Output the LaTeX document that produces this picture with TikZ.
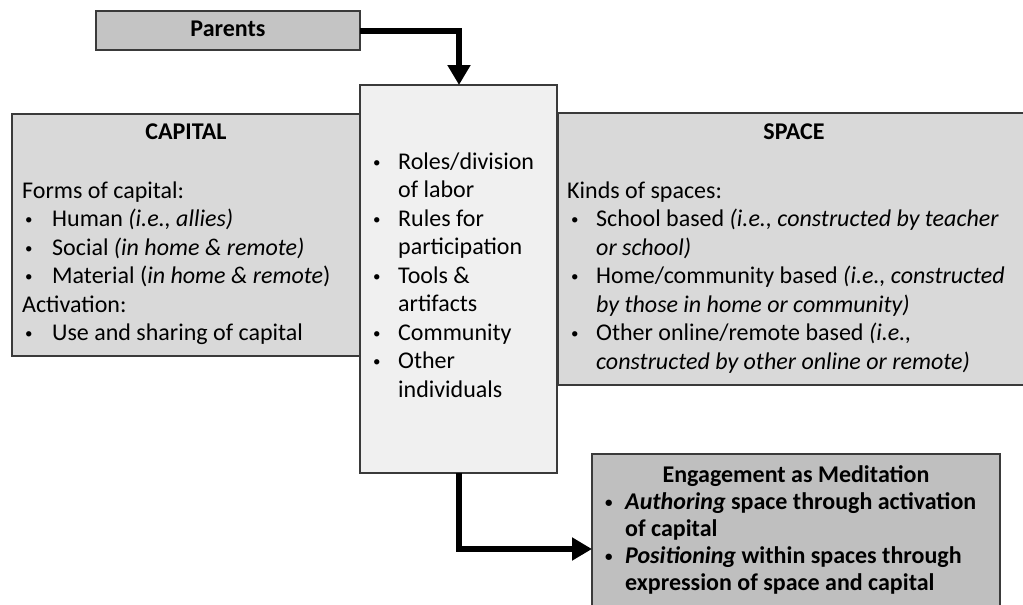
\documentclass[tikz,border=0pt]{standalone}
\usepackage{fontspec}
\setmainfont{Carlito}
\usetikzlibrary{arrows.meta}
\newcommand\fsz{\fontsize{24}{28}\selectfont}
\newcommand\bl[1]{\makebox[#1][l]{\raisebox{2pt}{\fontsize{15}{15}\selectfont •}}}
\definecolor{edgec}{HTML}{3A3A3A}
\definecolor{parentfill}{HTML}{C4C4C4}
\definecolor{midfill}{HTML}{D9D9D9}
\definecolor{lightfill}{HTML}{F0F0F0}
\definecolor{engfill}{HTML}{BFBFBF}
\begin{document}
\begin{tikzpicture}[x=1pt,y=-1pt,
  box/.style={draw=edgec, line width=1.5pt, anchor=north west, inner sep=0pt, outer sep=0pt},
  txt/.style={anchor=base west, inner sep=0pt, font=\fsz},
  ttl/.style={anchor=base, inner sep=0pt, font=\fsz\bfseries},
  btxt/.style={anchor=base west, inner sep=0pt, font=\fsz\bfseries},
  conn/.style={line width=6pt, -{Triangle[width=22pt,length=20pt]}}]
\useasboundingbox (0,0) rectangle (1023,605);
\clip (0,0) rectangle (1023,605);
% boxes
\node[box, fill=parentfill, minimum width=264pt, minimum height=39pt] (parents) at (96,11) {};
\node[font=\fsz\bfseries, inner sep=0pt] (ptxt) at (228,29) {Parents};
\node[box, fill=midfill, minimum width=348pt, minimum height=242pt] (capital) at (12,114) {};
\node[box, fill=midfill, minimum width=472pt, minimum height=272pt] (space) at (558,113) {};
\node[box, fill=lightfill, minimum width=197pt, minimum height=388pt] (center) at (360,85) {};
\node[box, fill=engfill, minimum width=408pt, minimum height=170pt] (engage) at (592,454) {};
% connectors
\draw[conn] (parents.east) -| ([xshift=0.5pt]center.north);
\draw[conn] ([xshift=0.5pt]center.south) |- ([yshift=-10pt]engage.west);
% CAPITAL text
\node[ttl] (capt) at (186,139) {CAPITAL};
\node[txt] (c1) at (22,198) {Forms of capital:};
\node[txt] (c2) at (25,226.5) {\bl{27pt}Human \textit{(i.e., allies)}};
\node[txt] (c3) at (25,255) {\bl{27pt}Social \textit{(in home \& remote)}};
\node[txt] (c4) at (25,283.5) {\bl{27pt}Material (\textit{in home \& remote})};
\node[txt] (c5) at (22,312) {Activation:};
\node[txt] (c6) at (25,340.5) {\bl{27pt}Use and sharing of capital};
% center text
\node[txt] (m1) at (373,169) {\bl{25pt}Roles/division};
\node[txt] (m2) at (398,197.5) {of labor};
\node[txt] (m3) at (373,226) {\bl{25pt}Rules for};
\node[txt] (m4) at (398,254.5) {participation};
\node[txt] (m5) at (373,283) {\bl{25pt}Tools \&};
\node[txt] (m6) at (398,311.5) {artifacts};
\node[txt] (m7) at (373,340) {\bl{25pt}Community};
\node[txt] (m8) at (373,368.5) {\bl{25pt}Other};
\node[txt] (m9) at (398,397) {individuals};
% SPACE text
\node[ttl] (spt) at (794,139) {SPACE};
\node[txt] (s1) at (567,198) {Kinds of spaces:};
\node[txt] (s2) at (571,226.5) {\bl{25pt}School based \textit{(i.e., constructed by teacher}};
\node[txt] (s3) at (596,255) {\textit{or school)}};
\node[txt] (s4) at (571,283.5) {\bl{25pt}Home/community based \textit{(i.e., constructed}};
\node[txt] (s5) at (596,312) {\textit{by those in home or community)}};
\node[txt] (s6) at (571,340.5) {\bl{25pt}Other online/remote based \textit{(i.e.,}};
\node[txt] (s7) at (596,369) {\textit{constructed by other online or remote)}};
% Engagement text
\node[ttl] (et) at (796,482) {Engagement as Meditation};
\node[btxt] (e1) at (605,509) {\bl{20pt}\textit{Authoring} space through activation};
\node[btxt] (e2) at (625,536) {of capital};
\node[btxt] (e3) at (605,563) {\bl{20pt}\textit{Positioning} within spaces through};
\node[btxt] (e4) at (625,590) {expression of space and capital};
\end{tikzpicture}
\end{document}
